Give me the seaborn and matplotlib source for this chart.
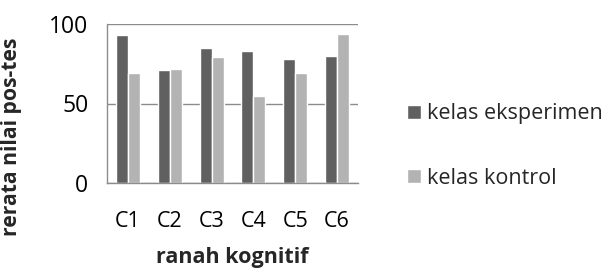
import matplotlib
matplotlib.use("Agg")
import matplotlib.pyplot as plt
import seaborn as sns
import pandas as pd

categories = ["C1", "C2", "C3", "C4", "C5", "C6"]
eksperimen = [93, 71, 85, 83, 78, 80]
kontrol = [69, 72, 79, 55, 69, 94]
series_names = ["kelas eksperimen", "kelas kontrol"]
colors = ["#606060", "#b3b3b3"]

df = pd.DataFrame({
    "kategori": categories * 2,
    "nilai": eksperimen + kontrol,
    "kelas": [series_names[0]] * len(categories) + [series_names[1]] * len(categories),
})

sns.set_style("white")
plt.rcParams["font.family"] = ["Open Sans", "DejaVu Sans"]

fig = plt.figure(figsize=(6.11, 2.69), dpi=100)
ax = fig.add_axes([107/611, 1-183/269, 251/611, 159/269])

sns.barplot(data=df, x="kategori", y="nilai", hue="kelas", palette=colors,
            width=0.57, saturation=1, ax=ax, legend=True)

ax.set_ylim(0, 100)
ax.set_yticks([0, 50, 100])
ax.yaxis.grid(True, color="#8c8c8c", linewidth=1)
ax.set_axisbelow(True)
for s in ["top", "right"]:
    ax.spines[s].set_visible(False)
ax.spines["left"].set_color("#8c8c8c")
ax.spines["bottom"].set_color("#8c8c8c")
ax.spines["left"].set_linewidth(1)
ax.spines["bottom"].set_linewidth(1)
ax.tick_params(axis="y", length=6.5, color="#8c8c8c", width=1, pad=7, labelsize=16.5, labelcolor="black")
ax.tick_params(axis="x", length=0, pad=20, labelsize=15.5, labelcolor="black")

ax.set_xlabel("ranah kognitif", fontsize=15.5, fontweight="bold", labelpad=11)
ax.set_ylabel("rerata nilai pos-tes", fontsize=15.2, fontweight="bold")
ax.yaxis.set_label_coords(-0.34, 0.29)

handles, labels = ax.get_legend_handles_labels()
ax.legend(handles, labels, loc="center left", bbox_to_anchor=(291/251, (183-146)/159),
          frameon=False, fontsize=15.5, handlelength=0.65, handleheight=0.65,
          handletextpad=0.3, labelspacing=2.0, borderaxespad=0)

fig.savefig("out.png", dpi=100)
